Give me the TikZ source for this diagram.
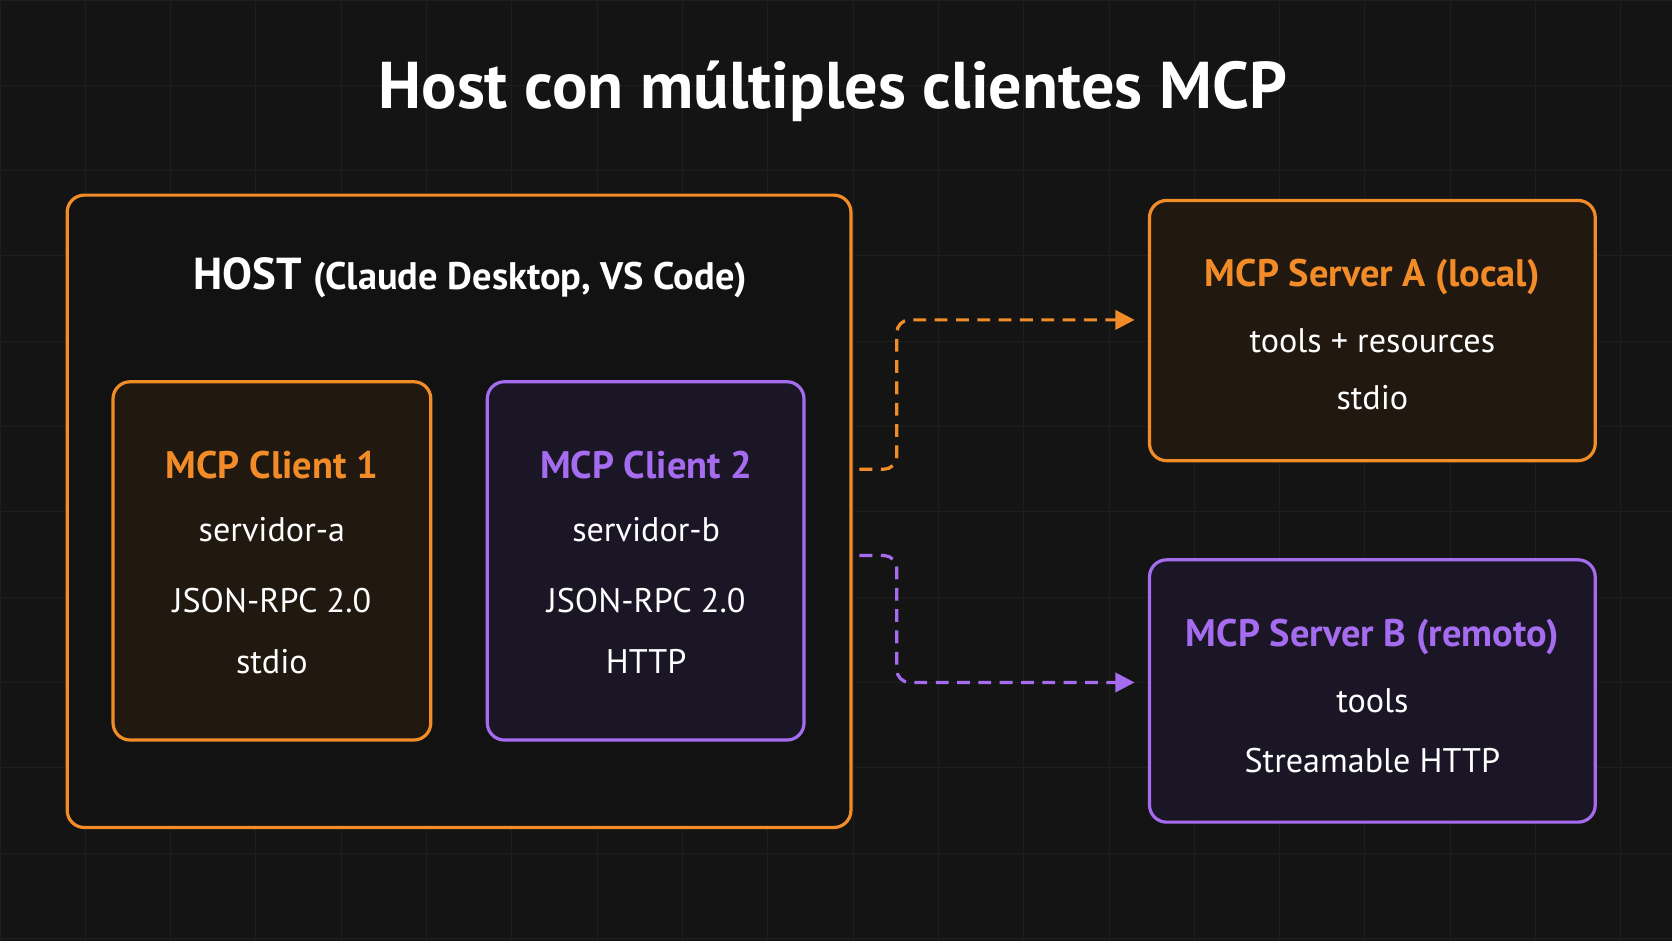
\documentclass[tikz,border=0pt]{standalone}
\usepackage{fontspec}
\setmainfont{PT Sans}
\usetikzlibrary{positioning,arrows.meta}
\definecolor{bgc}{HTML}{141414}
\definecolor{gridc}{HTML}{1E1E1E}
\definecolor{orng}{HTML}{F28C28}
\definecolor{purp}{HTML}{A66CF0}
\definecolor{ofill}{HTML}{21180F}
\definecolor{pfill}{HTML}{1B1626}
\tikzset{
  box/.style={draw, line width=1.5pt, rounded corners=8pt},
  obox/.style={box, draw=orng, fill=ofill},
  pbox/.style={box, draw=purp, fill=pfill},
  head/.style={font=\fontsize{18}{21}\selectfont\bfseries},
  body/.style={text=white, font=\fontsize{16}{19}\selectfont},
  link/.style={dashed, dash pattern=on 6pt off 4pt, line width=1.5pt, rounded corners=6pt, -{Triangle[length=9pt,width=9pt]}}
}
\begin{document}
\begin{tikzpicture}[x=0.5pt,y=-0.5pt]
  \fill[bgc] (0,0) rectangle (1568,882);
  \useasboundingbox (0,0) rectangle (1568,882);
  % faint grid
  \foreach \x in {0,80,...,1560} \draw[gridc] (\x,0) -- (\x,882);
  \foreach \y in {0,80,...,880} \draw[gridc] (0,\y) -- (1568,\y);
  \node[text=white, font=\fontsize{31}{36}\selectfont\bfseries] (title) at (781,86) {Host con múltiples clientes MCP};
  % host
  \draw[box, draw=orng, fill=bgc!90!black] (63,183) rectangle (798,776);
  \node[text=white, font=\fontsize{21}{24}\selectfont\bfseries] (host) at (441,260) {HOST \fontsize{18}{21}\selectfont(Claude Desktop, VS Code)};
  % clients
  \draw[obox] (106,358) rectangle (404,694);
  \node[head, text=orng] (c1) at (255,436) {MCP Client 1};
  \node[body] (c1a) at (255,497) {servidor-a};
  \node[body] (c1b) at (255,563) {JSON-RPC 2.0};
  \node[body] (c1c) at (255,620) {stdio};
  \draw[pbox] (457,358) rectangle (754,694);
  \node[head, text=purp] (c2) at (606,436) {MCP Client 2};
  \node[body] (c2a) at (606,497) {servidor-b};
  \node[body] (c2b) at (606,563) {JSON-RPC 2.0};
  \node[body] (c2c) at (606,620) {HTTP};
  % servers
  \draw[obox] (1078,188) rectangle (1496,432);
  \node[head, text=orng] (sa) at (1287,260) {MCP Server A (local)};
  \node[body] (sa1) at (1287,320) {tools + resources};
  \node[body] (sa2) at (1287,373) {stdio};
  \draw[pbox] (1078,525) rectangle (1496,771);
  \node[head, text=purp] (sb) at (1287,597) {MCP Server B (remoto)};
  \node[body] (sb1) at (1287,657) {tools};
  \node[body] (sb2) at (1287,713) {Streamable HTTP};
  % links
  \coordinate (oa) at (806,440);
  \coordinate (ob) at (806,521);
  \coordinate (ea) at (1064,300);
  \coordinate (eb) at (1064,640);
  \draw[link, orng] (oa) -- (841,440) -- (841,300) -- (ea);
  \draw[link, purp] (ob) -- (841,521) -- (841,640) -- (eb);
\end{tikzpicture}
\end{document}
